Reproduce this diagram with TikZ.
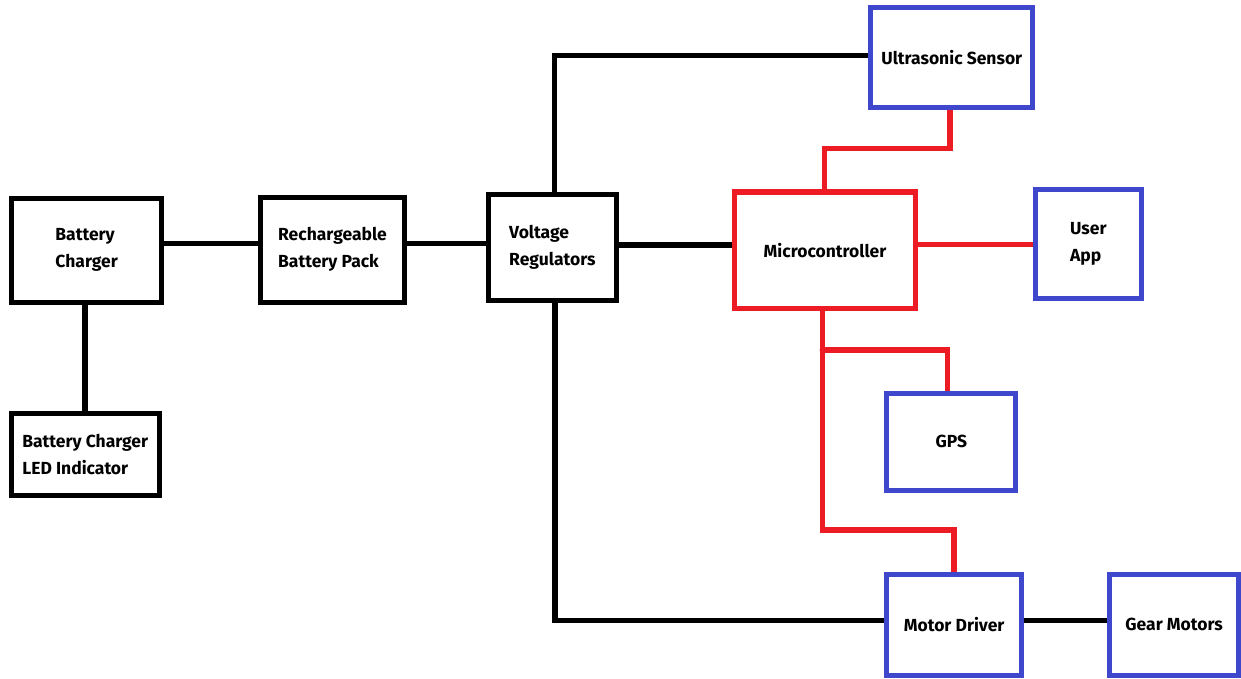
\documentclass[tikz,border=0pt]{standalone}
\usepackage{fontspec}
\setmainfont{Fira Sans}
\usetikzlibrary{backgrounds}
\definecolor{pred}{HTML}{ED1C24}
\definecolor{pblue}{HTML}{3F48CC}
\tikzset{
  blk/.style={draw=black, line width=5pt, fill=white, rectangle, align=left,
     font=\fontsize{17.5}{26.7}\selectfont\bfseries, inner sep=0pt},
  bluebox/.style={blk, draw=pblue},
  redbox/.style={blk, draw=pred},
  wire/.style={draw=black, line width=5.5pt, line cap=round},
  rwire/.style={draw=pred, line width=5.5pt, line cap=round},
}
\begin{document}
\begin{tikzpicture}[x=1pt,y=-1pt]
\useasboundingbox (0,0) rectangle (1241,679);
\node[blk, minimum width=149.8pt, minimum height=104pt] (bc) at (86.6,250) {Battery\\Charger};
\node[blk, minimum width=148.5pt, minimum height=81.5pt] (led) at (85.25,454.25) {Battery Charger\\LED Indicator};
\node[blk, minimum width=144pt, minimum height=105pt] (rbp) at (332.5,249.5) {Rechargeable\\Battery Pack};
\node[blk, minimum width=128.7pt, minimum height=106pt] (vr) at (552.35,247.5) {Voltage\\Regulators};
\node[bluebox, minimum width=162pt, minimum height=100.5pt] (us) at (951.8,57.75) {Ultrasonic Sensor};
\node[redbox, minimum width=180.4pt, minimum height=116.3pt] (mc) at (825,250.15) {Microcontroller};
\node[bluebox, minimum width=106.7pt, minimum height=109pt] (ua) at (1088.35,244) {User\\App};
\node[bluebox, minimum width=129pt, minimum height=96.3pt] (gps) at (951.3,441.85) {GPS};
\node[bluebox, minimum width=134.7pt, minimum height=100.8pt] (md) at (954.15,624.6) {Motor Driver};
\node[bluebox, minimum width=128.7pt, minimum height=100.8pt] (gm) at (1174.15,624.6) {Gear Motors};

\coordinate (ya) at (0,243.3);
\coordinate (yt) at (554.3,55.3);
\coordinate (yvm) at (0,245);
\coordinate (yb) at (555,620.7);
\coordinate (xl) at (85,0);
\coordinate (ru) at (950,148.3);
\coordinate (ru2) at (824.3,148.3);
\coordinate (yua) at (0,244.3);
\coordinate (rd) at (822.3,530);
\coordinate (rd2) at (954,530);
\coordinate (rg) at (822.3,350);
\coordinate (rg2) at (947.7,350);

\begin{scope}[on background layer]
\fill[white] (0,0) rectangle (1241,679);
\draw[wire] (bc.east |- ya) -- (rbp.west |- ya);
\draw[wire] (bc.south -| xl) -- (led.north -| xl);
\draw[wire] (rbp.east |- ya) -- (vr.west |- ya);
\draw[wire] (vr.north -| yt) -- (yt) -- (us.west |- yt);
\draw[wire] (vr.east |- yvm) -- (mc.west |- yvm);
\draw[wire] (vr.south -| yb) -- (yb) -- (md.west |- yb);
\draw[wire] (md.east |- yb) -- (gm.west |- yb);
\draw[rwire] (us.south -| ru) -- (ru) -- (ru2) -- (mc.north -| ru2);
\draw[rwire] (mc.east |- yua) -- (ua.west |- yua);
\draw[rwire] (mc.south -| rd) -- (rd) -- (rd2) -- (md.north -| rd2);
\draw[rwire] (rg) -- (rg2) -- (gps.north -| rg2);
\end{scope}
\end{tikzpicture}
\end{document}
